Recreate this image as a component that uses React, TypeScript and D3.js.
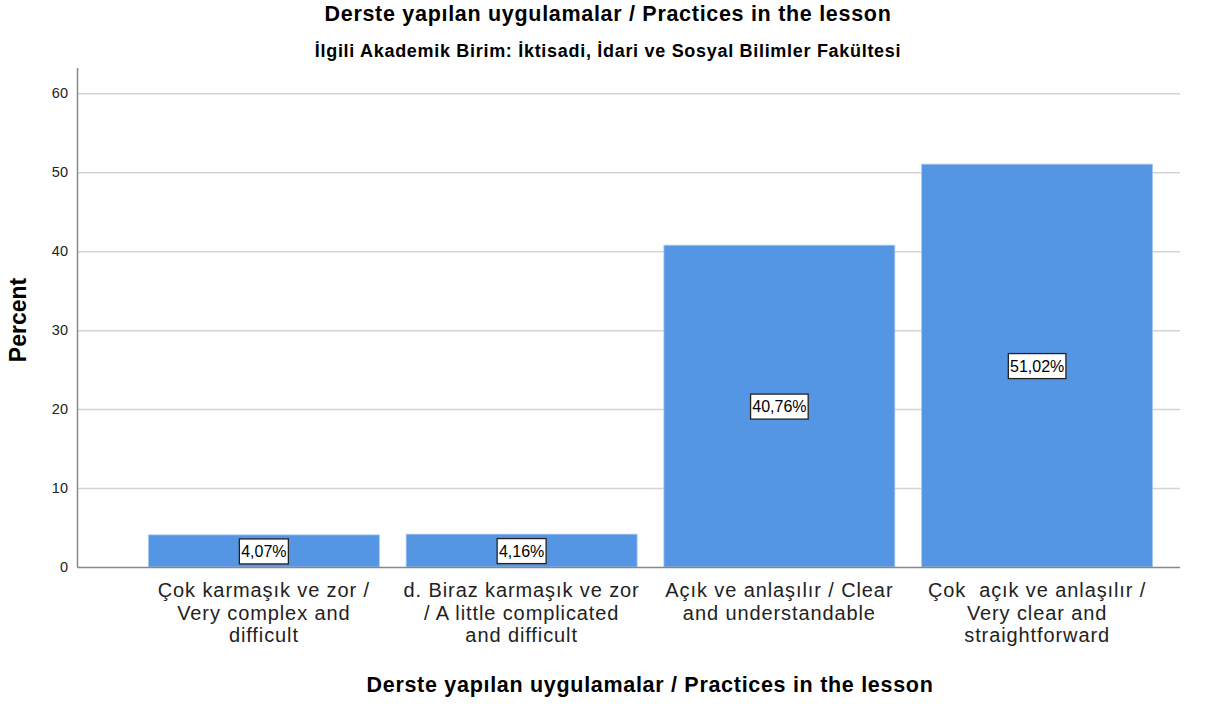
import React from "react";
import * as d3 from "d3";

const categories = [
  "Çok karmaşık ve zor / Very complex and difficult",
  "d. Biraz karmaşık ve zor / A little complicated and difficult",
  "Açık ve anlaşılır / Clear and understandable",
  "Çok  açık ve anlaşılır / Very clear and straightforward",
];
const categoryLines = [
  ["Çok karmaşık ve zor /", "Very complex and", "difficult"],
  ["d. Biraz karmaşık ve zor", "/ A little complicated", "and difficult"],
  ["Açık ve anlaşılır / Clear", "and understandable"],
  ["Çok  açık ve anlaşılır /", "Very clear and", "straightforward"],
];
const percents = [4.07, 4.16, 40.76, 51.02];
const valueLabels = ["4,07%", "4,16%", "40,76%", "51,02%"];
const yTicks = [0, 10, 20, 30, 40, 50, 60];

const W = 1226;
const H = 706;

export default function App() {
  const y = d3.scaleLinear().domain([0, 63.2]).range([567, 68]);
  const x = d3
    .scaleBand<string>()
    .domain(categories)
    .range([135, 1166])
    .paddingInner(0.104)
    .paddingOuter(0.052);
  const axisLeft = 77.5;
  const axisRight = 1180;
  const font = "Arial, 'Liberation Sans', sans-serif";
  return (
    <svg
      width={W}
      height={H}
      style={{ position: "absolute", left: 0, top: 0, background: "#fff" }}
      fontFamily={font}
    >
      <rect x={0} y={0} width={W} height={H} fill="#fff" />
      <text x={608} y={21} textAnchor="middle" fontSize={21.5} fontWeight="bold" letterSpacing={0.7} fill="#000">
        Derste yapılan uygulamalar / Practices in the lesson
      </text>
      <text x={608} y={57} textAnchor="middle" fontSize={18} fontWeight="bold" letterSpacing={0.7} fill="#000">
        İlgili Akademik Birim: İktisadi, İdari ve Sosyal Bilimler Fakültesi
      </text>
      {yTicks.map((t) => (
        <g key={t}>
          {t > 0 && (
            <line x1={axisLeft} x2={axisRight} y1={y(t) + 0.5} y2={y(t) + 0.5} stroke="#d4d4d4" strokeWidth={1.5} />
          )}
          <text x={68} y={y(t) + 5} textAnchor="end" fontSize={14.5} fill="#222">
            {t}
          </text>
        </g>
      ))}
      {categories.map((c, i) => {
        const x0 = x(c)!;
        const bw = x.bandwidth();
        const yTop = y(percents[i]);
        const cy = (yTop + y(0)) / 2;
        const cx = x0 + bw / 2;
        const lw = valueLabels[i].length * 8.6 + 6;
        return (
          <g key={c}>
            <rect x={x0} y={yTop} width={bw} height={y(0) - yTop} fill="#5596e4" stroke="#a9c8f0" strokeWidth={0.8} />
            <rect x={cx - lw / 2} y={cy - 12} width={lw} height={25} fill="#fff" stroke="#222" strokeWidth={1.3} />
            <text x={cx} y={cy + 6} textAnchor="middle" fontSize={16} fill="#000">
              {valueLabels[i]}
            </text>
            {categoryLines[i].map((ln, j) => (
              <text
                key={j}
                x={cx}
                y={597 + j * 22.5}
                textAnchor="middle"
                fontSize={20}
                letterSpacing={0.9}
                fill="#222"
                style={{ whiteSpace: "pre" }}
              >
                {ln}
              </text>
            ))}
          </g>
        );
      })}
      <line x1={axisLeft} x2={axisLeft} y1={68} y2={567.5} stroke="#888" strokeWidth={1.5} />
      <line x1={axisLeft} x2={axisRight} y1={567.5} y2={567.5} stroke="#888" strokeWidth={1.5} />
      <text
        transform={`translate(26,320) rotate(-90)`}
        textAnchor="middle"
        fontSize={23}
        fontWeight="bold"
        fill="#000"
      >
        Percent
      </text>
      <text x={650} y={692} textAnchor="middle" fontSize={21.5} fontWeight="bold" letterSpacing={0.7} fill="#000">
        Derste yapılan uygulamalar / Practices in the lesson
      </text>
    </svg>
  );
}
